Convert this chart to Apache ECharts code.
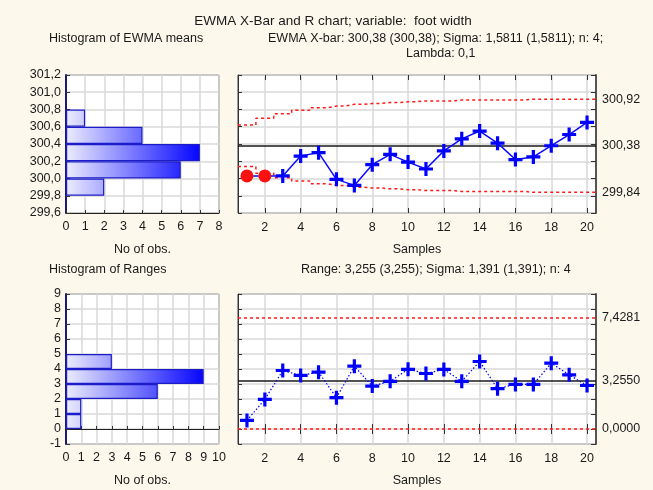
<!DOCTYPE html>
<html>
<head>
<meta charset="utf-8">
<script src="https://cdn.jsdelivr.net/npm/echarts@6.0.0/dist/echarts.min.js"></script>
<style>
html,body{margin:0;padding:0;background:#fcf8ec;}
#chart{width:653px;height:490px;}
</style>
</head>
<body>
<div id="chart"></div>
<script>
// ---------- data ----------
const samples = [1,2,3,4,5,6,7,8,9,10,11,12,13,14,15,16,17,18,19,20];
const ewmaMeans = [300.03,300.03,300.03,300.26,300.30,299.99,299.92,300.16,300.28,300.19,300.11,300.32,300.46,300.55,300.41,300.22,300.25,300.38,300.51,300.65];
const ewmaUCL = [300.62,300.70,300.75,300.79,300.82,300.84,300.86,300.87,300.88,300.89,300.90,300.90,300.91,300.91,300.91,300.91,300.92,300.92,300.92,300.92];
const ewmaLCL = [300.14,300.06,300.01,299.97,299.94,299.92,299.90,299.89,299.88,299.87,299.86,299.86,299.85,299.85,299.85,299.85,299.84,299.84,299.84,299.84];
const ewmaCenter = 300.38;
const ewmaOutOfControl = [1,2];
const ewmaLimitLabels = [299.84,300.38,300.92];

const ranges = [0.57,1.97,3.90,3.57,3.79,2.09,4.19,2.86,3.18,3.98,3.70,3.97,3.18,4.50,2.69,2.97,2.97,4.39,3.61,2.90];
const rangeCenter = 3.2550;
const rangeUCL = 7.4281;
const rangeLCL = 0.0000;
const rangeLimitLabels = [0,3.2550,7.4281];

const ewmaBins = ['299,6-299,8','299,8-300,0','300,0-300,2','300,2-300,4','300,4-300,6','300,6-300,8','300,8-301,0','301,0-301,2'];
const ewmaCounts = [0,2,6,7,4,1,0,0];
const rangeBins = ['-1-0','0-1','1-2','2-3','3-4','4-5','5-6','6-7','7-8','8-9'];
const rangeCounts = [0,1,1,6,9,3,0,0,0,0];

const sampleTicks = [2,4,6,8,10,12,14,16,18,20];

// ---------- layout/style ----------
const FONT = "'Liberation Sans', Arial, sans-serif";
const TXT = '#1a1a1a';
const GRIDC = '#d9d9d9';
const G = [
  {left:66, top:75, width:153, height:138},
  {left:238, top:75, width:358, height:138},
  {left:66, top:294, width:153, height:150},
  {left:238, top:294, width:358, height:150}
];
const comma = (v, d) => v.toFixed(d).replace('.', ',');

function histGradient(g, maxCount, axisMax) {
  return new echarts.graphic.LinearGradient(g.left, 0, g.left + g.width * maxCount / axisMax, 0,
    [{offset:0, color:'#ececff'}, {offset:1, color:'#0505ff'}], true);
}
const plusPath = 'path://M-1.6,-7H1.6V-1.6H7V1.6H1.6V7H-1.6V1.6H-7V-1.6H-1.6Z';

function gridOpt(g) {
  return Object.assign({show:true, backgroundColor:'#ffffff', borderColor:'#3a3a3a', borderWidth:1, containLabel:false}, g);
}
function histX(gi, max) {
  return {
    type:'value', gridIndex:gi, min:0, max:max, interval:1, position:'bottom',
    name:'No of obs.', nameLocation:'middle', nameGap:30,
    nameTextStyle:{fontFamily:FONT, fontSize:12.5, color:TXT},
    axisLine:{show:true, lineStyle:{color:'#222', width:1}},
    axisTick:{show:true, inside:true, length:3, lineStyle:{color:'#333'}},
    axisLabel:{fontFamily:FONT, fontSize:12.5, color:TXT, margin:7},
    splitLine:{show:true, lineStyle:{color:GRIDC, width:1.5}}
  };
}
function sampleX(gi, top) {
  return {
    type:'value', gridIndex:gi, min:0.5, max:20.5, position: top ? 'top' : 'bottom',
    name: top ? '' : 'Samples', nameLocation:'middle', nameGap:30,
    nameTextStyle:{fontFamily:FONT, fontSize:12.5, color:TXT},
    axisLine:{show:false},
    axisTick:{show:true, inside:true, length:5, customValues:sampleTicks, lineStyle:{color:'#333'}},
    axisLabel:{show:!top, customValues:sampleTicks, fontFamily:FONT, fontSize:12.5, color:TXT, margin:8},
    splitLine:{show:!top, lineStyle:{color:GRIDC, width:1.5}}
  };
}
function leftValueY(gi, min, max, interval, showLabels, dec) {
  return {
    type:'value', gridIndex:gi, min:min, max:max, interval:interval, position:'left',
    axisLine:{show:true, lineStyle:{color: showLabels ? '#1a1a70' : '#333', width: showLabels ? 2 : 1}},
    axisTick:{show:true, inside:true, length:4, lineStyle:{color:'#333'}},
    axisLabel:{show:showLabels, fontFamily:FONT, fontSize:12.5, color:TXT, margin:5,
      formatter: v => comma(v, dec)},
    splitLine:{show:true, lineStyle:{color:GRIDC, width:1.5}}
  };
}
function rightY(gi, min, max, interval, labels, dec) {
  return {
    type:'value', gridIndex:gi, min:min, max:max, interval:interval, position:'right',
    axisLine:{show:true, lineStyle:{color:'#555', width:2}},
    axisTick:{show:true, inside:true, length:5, lineStyle:{color:'#333'}},
    axisLabel:{show:true, customValues:labels, fontFamily:FONT, fontSize:12.5, color:TXT, margin:6,
      formatter: v => comma(v, dec)},
    splitLine:{show:false}
  };
}
function catY(gi, cats) {
  return {type:'category', gridIndex:gi, data:cats, show:false, boundaryGap:true};
}

const ewmaStep = (arr) => {
  const d = [[samples[0] - 0.5, arr[0]]];
  samples.forEach((s, i) => d.push([s, arr[i]]));
  d.push([samples[samples.length - 1] + 0.5, arr[arr.length - 1]]);
  return d;
};
const redDash = {color:'#ff1a1a', width:1.5, type:[3,3]};

const ewmaData = samples.map((s, i) => {
  if (ewmaOutOfControl.indexOf(s) >= 0) {
    return {value:[s, ewmaMeans[i]], symbol:'circle', symbolSize:13, itemStyle:{color:'#ff1010'}};
  }
  return {value:[s, ewmaMeans[i]]};
});

const option = {
  backgroundColor:'#fcf8ec',
  animation:false,
  grid: G.map(gridOpt),
  xAxis: [histX(0, 8), sampleX(1, false), sampleX(1, true), histX(2, 10), sampleX(3, false), sampleX(3, true)],
  yAxis: [
    leftValueY(0, 299.6, 301.2, 0.2, true, 1),
    catY(0, ewmaBins),
    leftValueY(1, 299.6, 301.2, 0.2, false, 1),
    rightY(1, 299.6, 301.2, 0.2, ewmaLimitLabels, 2),
    leftValueY(2, -1, 9, 1, true, 0),
    catY(2, rangeBins),
    leftValueY(3, -1, 9, 1, false, 0),
    rightY(3, -1, 9, 1, rangeLimitLabels, 4)
  ],
  series: [
    {
      type:'bar', xAxisIndex:0, yAxisIndex:1, barWidth:'100%', barCategoryGap:'0%',
      data: ewmaCounts.map(c => c === 0 ? null : c),
      itemStyle:{color: histGradient(G[0], Math.max.apply(null, ewmaCounts), 8), borderColor:'#1c1cc8', borderWidth:1.2},
      silent:true, z:3
    },
    {
      type:'line', xAxisIndex:1, yAxisIndex:2, step:'middle', data: ewmaStep(ewmaUCL),
      symbol:'none', lineStyle:redDash, silent:true, z:2
    },
    {
      type:'line', xAxisIndex:1, yAxisIndex:2, step:'middle', data: ewmaStep(ewmaLCL),
      symbol:'none', lineStyle:redDash, silent:true, z:2
    },
    {
      type:'line', xAxisIndex:1, yAxisIndex:2, data: ewmaData,
      symbol:plusPath, symbolSize:14, itemStyle:{color:'#0000ff'},
      lineStyle:{color:'#0a0aff', width:1.5}, silent:true, z:4,
      markLine:{symbol:'none', silent:true, label:{show:false}, z:3,
        data:[{yAxis:ewmaCenter, lineStyle:{color:'#1a1a1a', width:1.5, type:'solid'}}]}
    },
    {
      type:'bar', xAxisIndex:3, yAxisIndex:5, barWidth:'100%', barCategoryGap:'0%',
      data: rangeCounts.map(c => c === 0 ? null : c),
      itemStyle:{color: histGradient(G[2], Math.max.apply(null, rangeCounts), 10), borderColor:'#1c1cc8', borderWidth:1.2},
      silent:true, z:3
    },
    {
      type:'line', xAxisIndex:4, yAxisIndex:6, data: samples.map((s, i) => [s, ranges[i]]),
      symbol:plusPath, symbolSize:14, itemStyle:{color:'#0000ff'},
      lineStyle:{color:'#0000ff', width:1.2, type:[1.5,2]}, silent:true, z:4,
      markLine:{symbol:'none', silent:true, label:{show:false}, z:3,
        data:[
          {yAxis:rangeUCL, lineStyle:redDash},
          {yAxis:rangeLCL, lineStyle:redDash},
          {yAxis:rangeCenter, lineStyle:{color:'#1a1a1a', width:1.5, type:'solid'}}
        ]}
    }
  ],
  graphic: [
    {type:'text', x:333, y:21, style:{text:'EWMA X-Bar and R chart; variable:  foot width', font:'13.5px ' + FONT, fill:TXT, align:'center', verticalAlign:'middle'}},
    {type:'text', x:49, y:39, style:{text:'Histogram of EWMA means', font:'12.5px ' + FONT, fill:TXT, align:'left', verticalAlign:'middle'}},
    {type:'text', x:268, y:39, style:{text:'EWMA X-bar: 300,38 (300,38); Sigma: 1,5811 (1,5811); n: 4;', font:'12.5px ' + FONT, fill:TXT, align:'left', verticalAlign:'middle'}},
    {type:'text', x:406, y:54, style:{text:'Lambda: 0,1', font:'12.5px ' + FONT, fill:TXT, align:'left', verticalAlign:'middle'}},
    {type:'text', x:49, y:270, style:{text:'Histogram of Ranges', font:'12.5px ' + FONT, fill:TXT, align:'left', verticalAlign:'middle'}},
    {type:'text', x:301, y:270, style:{text:'Range: 3,255 (3,255); Sigma: 1,391 (1,391); n: 4', font:'12.5px ' + FONT, fill:TXT, align:'left', verticalAlign:'middle'}}
  ]
};

const chart = echarts.init(document.getElementById('chart'), null, {renderer:'canvas'});
chart.setOption(option);
</script>
</body>
</html>
